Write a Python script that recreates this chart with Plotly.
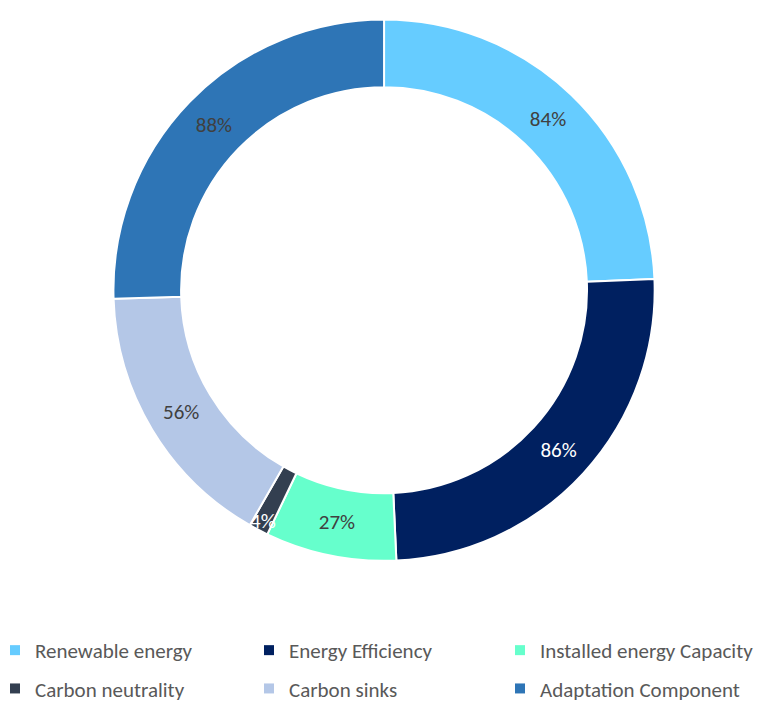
import plotly.graph_objects as go

categories = ["Renewable energy", "Energy Efficiency", "Installed energy Capacity",
              "Carbon neutrality", "Carbon sinks", "Adaptation Component"]
values = [84, 86, 27, 4, 56, 88]
colors = ["#66CCFF", "#002060", "#66FFCC", "#333F50", "#B4C7E7", "#2E75B6"]
text_colors = ["#404040", "#FFFFFF", "#404040", "#FFFFFF", "#404040", "#404040"]

FONT = "Carlito, Lato, 'Open Sans', sans-serif"

fig = go.Figure()
fig.add_trace(go.Pie(
    labels=categories,
    values=values,
    hole=0.75,
    sort=False,
    direction="clockwise",
    rotation=0,
    marker=dict(colors=colors, line=dict(color="white", width=2)),
    texttemplate="%{value}%",
    textposition="inside",
    insidetextorientation="horizontal",
    textfont=dict(family=FONT, size=21, color=text_colors),
    domain=dict(x=[0.1306, 0.8487], y=[0.1965, 0.9832]),
    showlegend=False,
    hoverinfo="label+value",
))

# legend entries: three columns of two rows (same order as the reference)
legend_names = ["legend", "legend2", "legend3"]
for i, (cat, col) in enumerate(zip(categories, colors)):
    fig.add_trace(go.Scatter(
        x=[None], y=[None], mode="markers",
        marker=dict(symbol="square", size=10, color=col),
        name=cat,
        legend=legend_names[i % 3],
        legendgroup=f"g{i}",
        showlegend=True,
        hoverinfo="skip",
    ))

legend_common = dict(
    orientation="v",
    xanchor="left", yanchor="top",
    y=1 - 634 / 701,
    tracegroupgap=8,
    indentation=-15,
    font=dict(family=FONT, size=21, color="#595959"),
    traceorder="grouped",
    bgcolor="rgba(0,0,0,0)",
)

fig.update_layout(
    width=768, height=701,
    margin=dict(l=0, r=0, t=0, b=0),
    paper_bgcolor="white",
    plot_bgcolor="white",
    uniformtext=dict(minsize=21, mode="show"),
    xaxis=dict(visible=False),
    yaxis=dict(visible=False),
    legend=dict(x=2 / 768, **legend_common),
    legend2=dict(x=256 / 768, **legend_common),
    legend3=dict(x=507 / 768, **legend_common),
)

fig.write_html("out.html")
